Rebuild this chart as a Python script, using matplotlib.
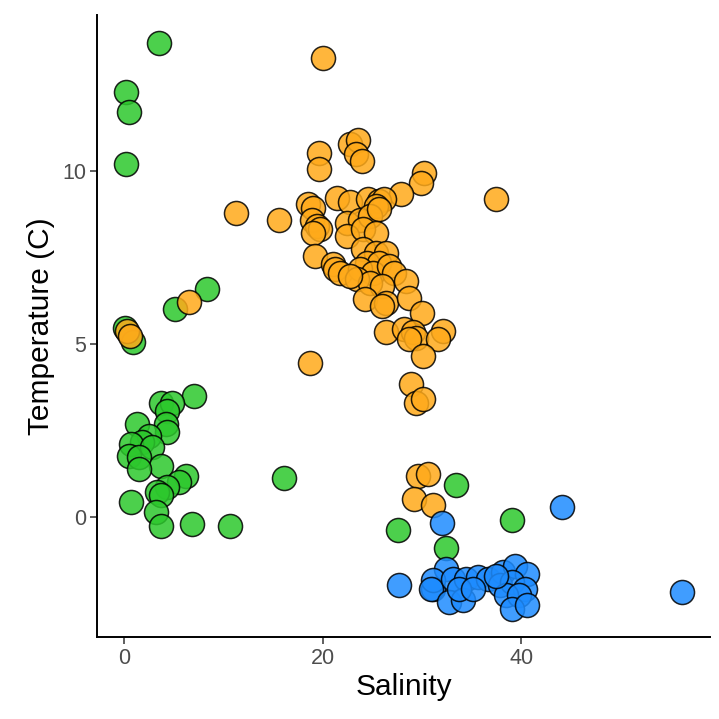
import matplotlib
matplotlib.use("Agg")
import matplotlib.pyplot as plt

plt.rcParams['font.family'] = ['Liberation Sans', 'DejaVu Sans']

# Water-mass samples: salinity vs temperature, grouped by source
fresh_sal = [3.5, 0.2, 0.5, 0.2, 8.3, 5.1, 0.05, 0.85,
             7.0, 3.65, 4.8, 4.3, 4.15, 1.3, 4.3, 2.5, 1.8, 0.65, 2.8, 0.45,
             1.5, 3.65, 1.5, 6.2, 5.5, 4.3, 3.3, 3.65, 0.65, 3.15, 3.65, 6.8,
             10.6, 16.1, 33.4, 27.6, 32.4, 39.1]
fresh_temp = [13.7, 12.3, 11.7, 10.2, 6.6, 6.0, 5.45, 5.05,
              3.5, 3.3, 3.3, 3.06, 2.68, 2.68, 2.44, 2.34, 2.15, 2.1, 2.0, 1.76,
              1.71, 1.47, 1.38, 1.18, 0.99, 0.85, 0.7, 0.61, 0.41, 0.12, -0.26, -0.21,
              -0.27, 1.11, 0.92, -0.38, -0.9, -0.09]

mixed_sal = [20.0, 11.2, 15.6, 19.6, 19.6, 22.7, 23.5, 23.3, 23.9,
             30.2, 29.9, 37.4, 27.9, 21.4, 18.5, 19.0, 22.7, 24.5, 25.7, 26.2, 25.4,
             18.9, 19.4, 19.7, 19.0, 22.4, 23.7, 24.7, 25.7, 22.4, 24.0, 25.4,
             19.2, 21.0, 21.2, 21.7, 24.0, 25.4, 26.4, 24.4, 25.7, 23.7, 25.0,
             26.7, 27.2, 23.4, 24.7, 22.7, 28.4, 26.0, 24.2, 26.4, 26.0, 28.7,
             30.0, 26.4, 28.2, 29.1, 29.4, 28.7, 32.1, 31.6, 30.1, 18.7,
             28.9, 29.4, 30.1, 29.6, 30.6, 29.2, 31.1, 6.5, 0.3, 0.55]
mixed_temp = [13.27, 8.8, 8.6, 10.53, 10.07, 10.8, 10.9, 10.5, 10.3,
              9.95, 9.66, 9.18, 9.33, 9.23, 9.04, 8.94, 9.1, 9.18, 9.13, 9.18, 8.99,
              8.6, 8.41, 8.32, 8.22, 8.51, 8.6, 8.7, 8.89, 8.12, 8.32, 8.22,
              7.54, 7.3, 7.16, 7.06, 7.74, 7.64, 7.64, 7.35, 7.35, 7.16, 7.06,
              7.25, 7.06, 6.87, 6.77, 6.97, 6.82, 6.68, 6.29, 6.19, 6.1, 6.34,
              5.9, 5.33, 5.42, 5.33, 5.18, 5.14, 5.38, 5.14, 4.65, 4.45,
              3.83, 3.3, 3.4, 1.18, 1.23, 0.51, 0.32, 6.21, 5.38, 5.22]

marine_sal = [27.7, 44.1, 56.2, 32.0, 31.1,
              32.4, 31.1, 30.9, 33.1, 34.4, 35.6, 36.6, 32.7, 34.1, 33.7, 35.1,
              38.1, 39.4, 40.6, 37.8, 39.1, 40.4, 38.4, 39.8, 39.1, 40.6, 37.4]
marine_temp = [-1.97, 0.27, -2.19, -0.19, -2.09,
               -1.51, -1.85, -2.09, -1.8, -1.8, -1.75, -1.8, -2.48, -2.43, -2.09, -2.09,
               -1.61, -1.42, -1.66, -1.99, -1.9, -2.09, -2.28, -2.28, -2.67, -2.57, -1.71]

groups = [
    (fresh_sal, fresh_temp, '#2DC82D'),
    (mixed_sal, mixed_temp, '#FFAA1A'),
    (marine_sal, marine_temp, '#1E8CFF'),
]

fig = plt.figure(figsize=(7.19, 7.19), dpi=100)
ax = fig.add_axes([0.135, 0.114, 0.8525, 0.865])

for sal, temp, color in groups:
    ax.scatter(sal, temp, s=300, c=color, alpha=0.85,
               edgecolors='black', linewidths=1.1, zorder=3)

all_x = fresh_sal + mixed_sal + marine_sal
all_y = fresh_temp + mixed_temp + marine_temp
xr = max(all_x) - min(all_x)
yr = max(all_y) - min(all_y)
ax.set_xlim(min(all_x) - 0.05 * xr, max(all_x) + 0.05 * xr)
ax.set_ylim(min(all_y) - 0.05 * yr, max(all_y) + 0.05 * yr)

ax.set_xticks([0, 20, 40])
ax.set_yticks([0, 5, 10])
ax.tick_params(axis='both', labelsize=15.5, colors='#333333', length=5, width=1.1,
               labelcolor='#4D4D4D', pad=3)
for side in ('top', 'right'):
    ax.spines[side].set_visible(False)
for side in ('left', 'bottom'):
    ax.spines[side].set_linewidth(1.4)
    ax.spines[side].set_color('black')

ax.set_xlabel('Salinity', fontsize=21.5, color='black', labelpad=3)
ax.set_ylabel('Temperature (C)', fontsize=21.5, color='black', labelpad=5)

fig.savefig('out.png', dpi=100)
